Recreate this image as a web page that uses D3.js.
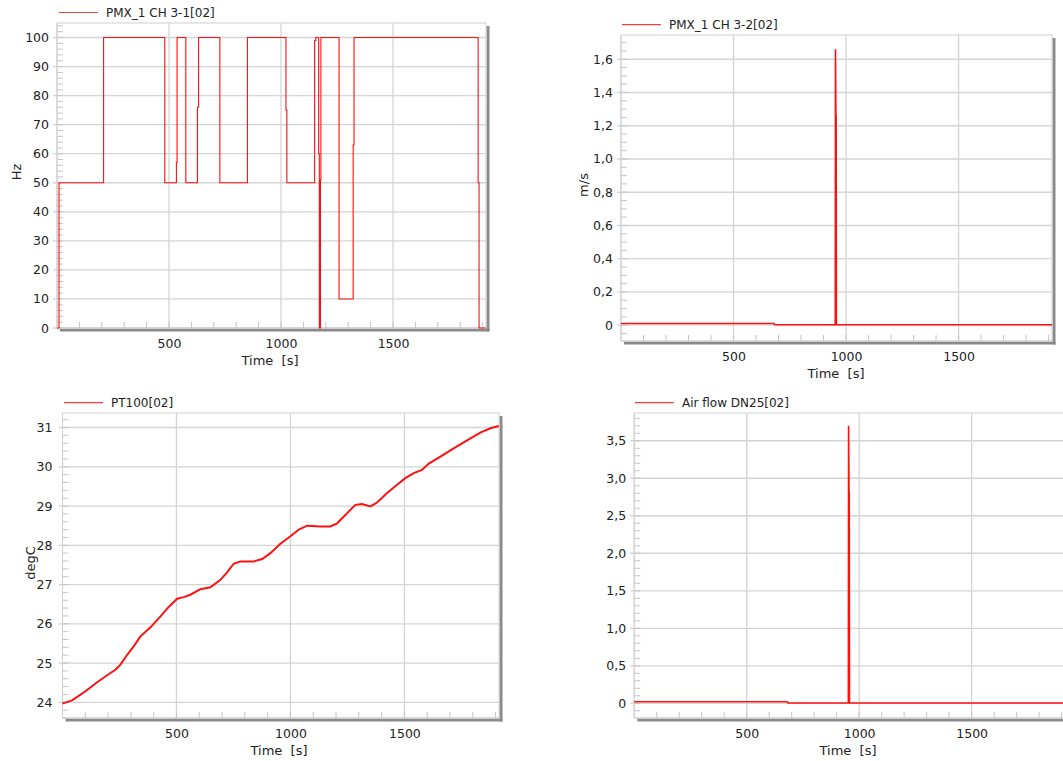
<!DOCTYPE html>
<html><head><meta charset="utf-8">
<script src="https://cdn.jsdelivr.net/npm/d3@7"></script>
<style>
body{margin:0;background:#fff;}
svg{display:block;font-family:"DejaVu Sans",Verdana,sans-serif;}
</style>
</head><body>
<svg id="c" width="1063" height="761"></svg>
<script>
// ---------- data ----------
const timeTicks = [500, 1000, 1500];

// Panel 1: PMX_1 CH 3-1[02] (Hz), step signal
const hzTime  = [0, 9, 208, 481, 533, 536, 575, 627, 632, 727, 850, 1022, 1026, 1150, 1155, 1168, 1171, 1176, 1178, 1259, 1322, 1326, 1880, 1884, 1913];
const hzValue = [0, 50, 100, 50, 57, 100, 50, 76, 100, 50, 100, 75, 50, 99, 100, 60, 0, 51, 100, 10, 63, 100, 50, 0, 0];
const hzTicks = [0, 10, 20, 30, 40, 50, 60, 70, 80, 90, 100];

// Panel 2: PMX_1 CH 3-2[02] (m/s)
const velTime  = [0, 680, 684, 952, 953, 955, 956, 957, 1915];
const velValue = [0.01, 0.01, 0.003, 0.003, 1.66, 1.26, 1.26, 0.003, 0.003];
const velTicks = [0, 0.2, 0.4, 0.6, 0.8, 1.0, 1.2, 1.4, 1.6];

// Panel 3: PT100[02] (degC)
const tempTime  = [0, 6, 42, 101, 152, 196, 232, 254, 284, 313, 342, 386, 430, 466, 503, 532, 561, 605, 649, 693, 722, 751, 781, 839, 876, 912, 956, 1000, 1037, 1073, 1132, 1175, 1205, 1249, 1285, 1314, 1351, 1380, 1424, 1468, 1504, 1541, 1577, 1607, 1658, 1716, 1775, 1833, 1877, 1914];
const tempValue = [23.97, 23.98, 24.05, 24.28, 24.51, 24.69, 24.83, 24.96, 25.21, 25.43, 25.68, 25.91, 26.19, 26.43, 26.64, 26.68, 26.74, 26.88, 26.93, 27.12, 27.31, 27.53, 27.59, 27.59, 27.65, 27.80, 28.04, 28.23, 28.40, 28.50, 28.48, 28.48, 28.56, 28.82, 29.03, 29.05, 28.99, 29.09, 29.33, 29.54, 29.71, 29.84, 29.92, 30.08, 30.26, 30.47, 30.67, 30.87, 30.98, 31.04];
const tempTicks = [24, 25, 26, 27, 28, 29, 30, 31];

// Panel 4: Air flow DN25[02]
const flowTime  = [0, 680, 684, 952, 953, 955, 956, 957, 1915];
const flowValue = [0.02, 0.02, 0.004, 0.004, 3.70, 2.80, 2.80, 0.004, 0.004];
const flowTicks = [0, 0.5, 1.0, 1.5, 2.0, 2.5, 3.0, 3.5];

// ---------- drawing ----------
const svg = d3.select("#c");
const RED = "#ff1010";
const GRID = "#d4d4d4";
const comma = d => d === 0 ? "0" : d3.format(".1f")(d).replace(".", ",");

function panel(o) {
  const x = d3.scaleLinear().domain([0, 1915]).range([o.x0, o.x1]);
  const y = d3.scaleLinear().domain(o.ydom).range([o.y1, o.y0]);
  const g = svg.append("g");
  const L = x.range()[0], R = x.range()[1], T = o.y0, B = o.y1;

  // shadow
  g.append("line").attr("x1", R + 2).attr("x2", R + 2).attr("y1", T + 3).attr("y2", B + 3.5)
    .attr("stroke", "#8a8a8a").attr("stroke-width", 3);
  g.append("line").attr("x1", L + 3).attr("x2", R + 3.5).attr("y1", B + 2).attr("y2", B + 2)
    .attr("stroke", "#8a8a8a").attr("stroke-width", 3);
  // background
  g.append("rect").attr("x", L).attr("y", T).attr("width", R - L).attr("height", B - T)
    .attr("fill", "#fff").attr("stroke", "#cfcfcf").attr("stroke-width", 1);

  // grid
  g.append("g").selectAll("line").data(timeTicks).join("line")
    .attr("x1", d => x(d)).attr("x2", d => x(d)).attr("y1", T).attr("y2", B)
    .attr("stroke", GRID).attr("stroke-width", 1.3);
  g.append("g").selectAll("line").data(o.ticks).join("line")
    .attr("x1", L - 4).attr("x2", R).attr("y1", d => y(d)).attr("y2", d => y(d))
    .attr("stroke", GRID).attr("stroke-width", 1.3);

  // minor ticks
  const xm = d3.range(100, 1915, 100);
  g.append("g").selectAll("line").data(xm).join("line")
    .attr("x1", d => x(d)).attr("x2", d => x(d)).attr("y1", B).attr("y2", B - 6)
    .attr("stroke", "#c4c4c4").attr("stroke-width", 1);
  const ym = d3.range(Math.ceil(o.ydom[0] / o.minor) * o.minor, o.ydom[1], o.minor);
  g.append("g").selectAll("line").data(ym).join("line")
    .attr("x1", L).attr("x2", L + 6).attr("y1", d => y(d)).attr("y2", d => y(d))
    .attr("stroke", "#c4c4c4").attr("stroke-width", 1);

  // tick labels
  const xAxis = d3.axisBottom(x).tickValues(timeTicks).tickSize(0).tickPadding(0).tickFormat(d3.format("d"));
  const xa = g.append("g").attr("transform", `translate(0,${B})`).call(xAxis);
  xa.select(".domain").remove();
  xa.selectAll("text").attr("y", 16).attr("dy", "0.35em").attr("font-size", 12.5)
    .attr("fill", "#222").attr("font-family", '"DejaVu Sans",Verdana,sans-serif');
  const yAxis = d3.axisLeft(y).tickValues(o.ticks).tickSize(0).tickPadding(0).tickFormat(o.fmt);
  const ya = g.append("g").attr("transform", `translate(${L},0)`).call(yAxis);
  ya.select(".domain").remove();
  ya.selectAll("text").attr("x", -o.labGap).attr("font-size", 12.5)
    .attr("fill", "#222").attr("font-family", '"DejaVu Sans",Verdana,sans-serif');

  // axis lines
  g.append("line").attr("x1", L).attr("x2", L).attr("y1", T).attr("y2", B).attr("stroke", "#cfcfcf");
  g.append("line").attr("x1", L).attr("x2", R).attr("y1", B).attr("y2", B).attr("stroke", "#cfcfcf");

  // titles
  g.append("text").attr("x", (o.xt)).attr("y", B + 32).attr("dy", "0.35em")
    .attr("text-anchor", "middle").attr("font-size", 13).attr("fill", "#222")
    .style("white-space", "pre").text("Time  [s]");
  if (o.ylabel) {
    g.append("text").attr("transform", `translate(${o.ylx},${o.yly}) rotate(-90)`)
      .attr("dy", "0.35em").attr("text-anchor", "middle").attr("font-size", 13).attr("fill", "#222")
      .text(o.ylabel);
  }

  // legend
  g.append("line").attr("x1", o.lx).attr("x2", o.lx + 39).attr("y1", o.ly).attr("y2", o.ly)
    .attr("stroke", "#f04040").attr("stroke-width", 1.2);
  g.append("text").attr("x", o.lx + 47).attr("y", o.ly).attr("dy", "0.35em")
    .attr("font-size", 12).attr("fill", "#222").text(o.name);

  // data line
  const id = "clip" + o.name.replace(/[^A-Za-z0-9]/g, "");
  svg.append("clipPath").attr("id", id).append("rect")
    .attr("x", L - 1).attr("y", T).attr("width", R - L + 2).attr("height", B - T + 1);
  const pts = o.t.map((t, i) => [t, o.v[i]]);
  g.append("path").datum(pts)
    .attr("clip-path", `url(#${id})`)
    .attr("fill", "none").attr("stroke", RED).attr("stroke-width", o.lw)
    .attr("d", d3.line().x(d => x(d[0])).y(d => y(d[1])).curve(o.curve || d3.curveLinear));
}

panel({ name: "PMX_1 CH 3-1[02]", t: hzTime, v: hzValue, x0: 57, x1: 486, y0: 23, y1: 328,
  ydom: [0, 105], ticks: hzTicks, minor: 2, fmt: d3.format("d"), labGap: 8,
  ylabel: "Hz", ylx: 16, yly: 172, xt: 270, lx: 59, ly: 12.5, lw: 1.1, curve: d3.curveStepAfter });

panel({ name: "PMX_1 CH 3-2[02]", t: velTime, v: velValue, x0: 621, x1: 1052, y0: 35, y1: 341,
  ydom: [-0.095, 1.746], ticks: velTicks, minor: 0.05, fmt: comma, labGap: 8,
  ylabel: "m/s", ylx: 583, yly: 185, xt: 836, lx: 622, ly: 24.7, lw: 1.6 });

panel({ name: "PT100[02]", t: tempTime, v: tempValue, x0: 62.5, x1: 499, y0: 413, y1: 718,
  ydom: [23.6, 31.37], ticks: tempTicks, minor: 0.2, fmt: d3.format("d"), labGap: 10,
  ylabel: "degC", ylx: 30, yly: 563, xt: 279, lx: 64, ly: 402.7, lw: 2 });

panel({ name: "Air flow DN25[02]", t: flowTime, v: flowValue, x0: 634.2, x1: 1065, y0: 413, y1: 718,
  ydom: [-0.196, 3.87], ticks: flowTicks, minor: 0.1, fmt: comma, labGap: 8,
  ylabel: null, xt: 848, lx: 635, ly: 402.7, lw: 1.6 });
</script>
</body></html>
